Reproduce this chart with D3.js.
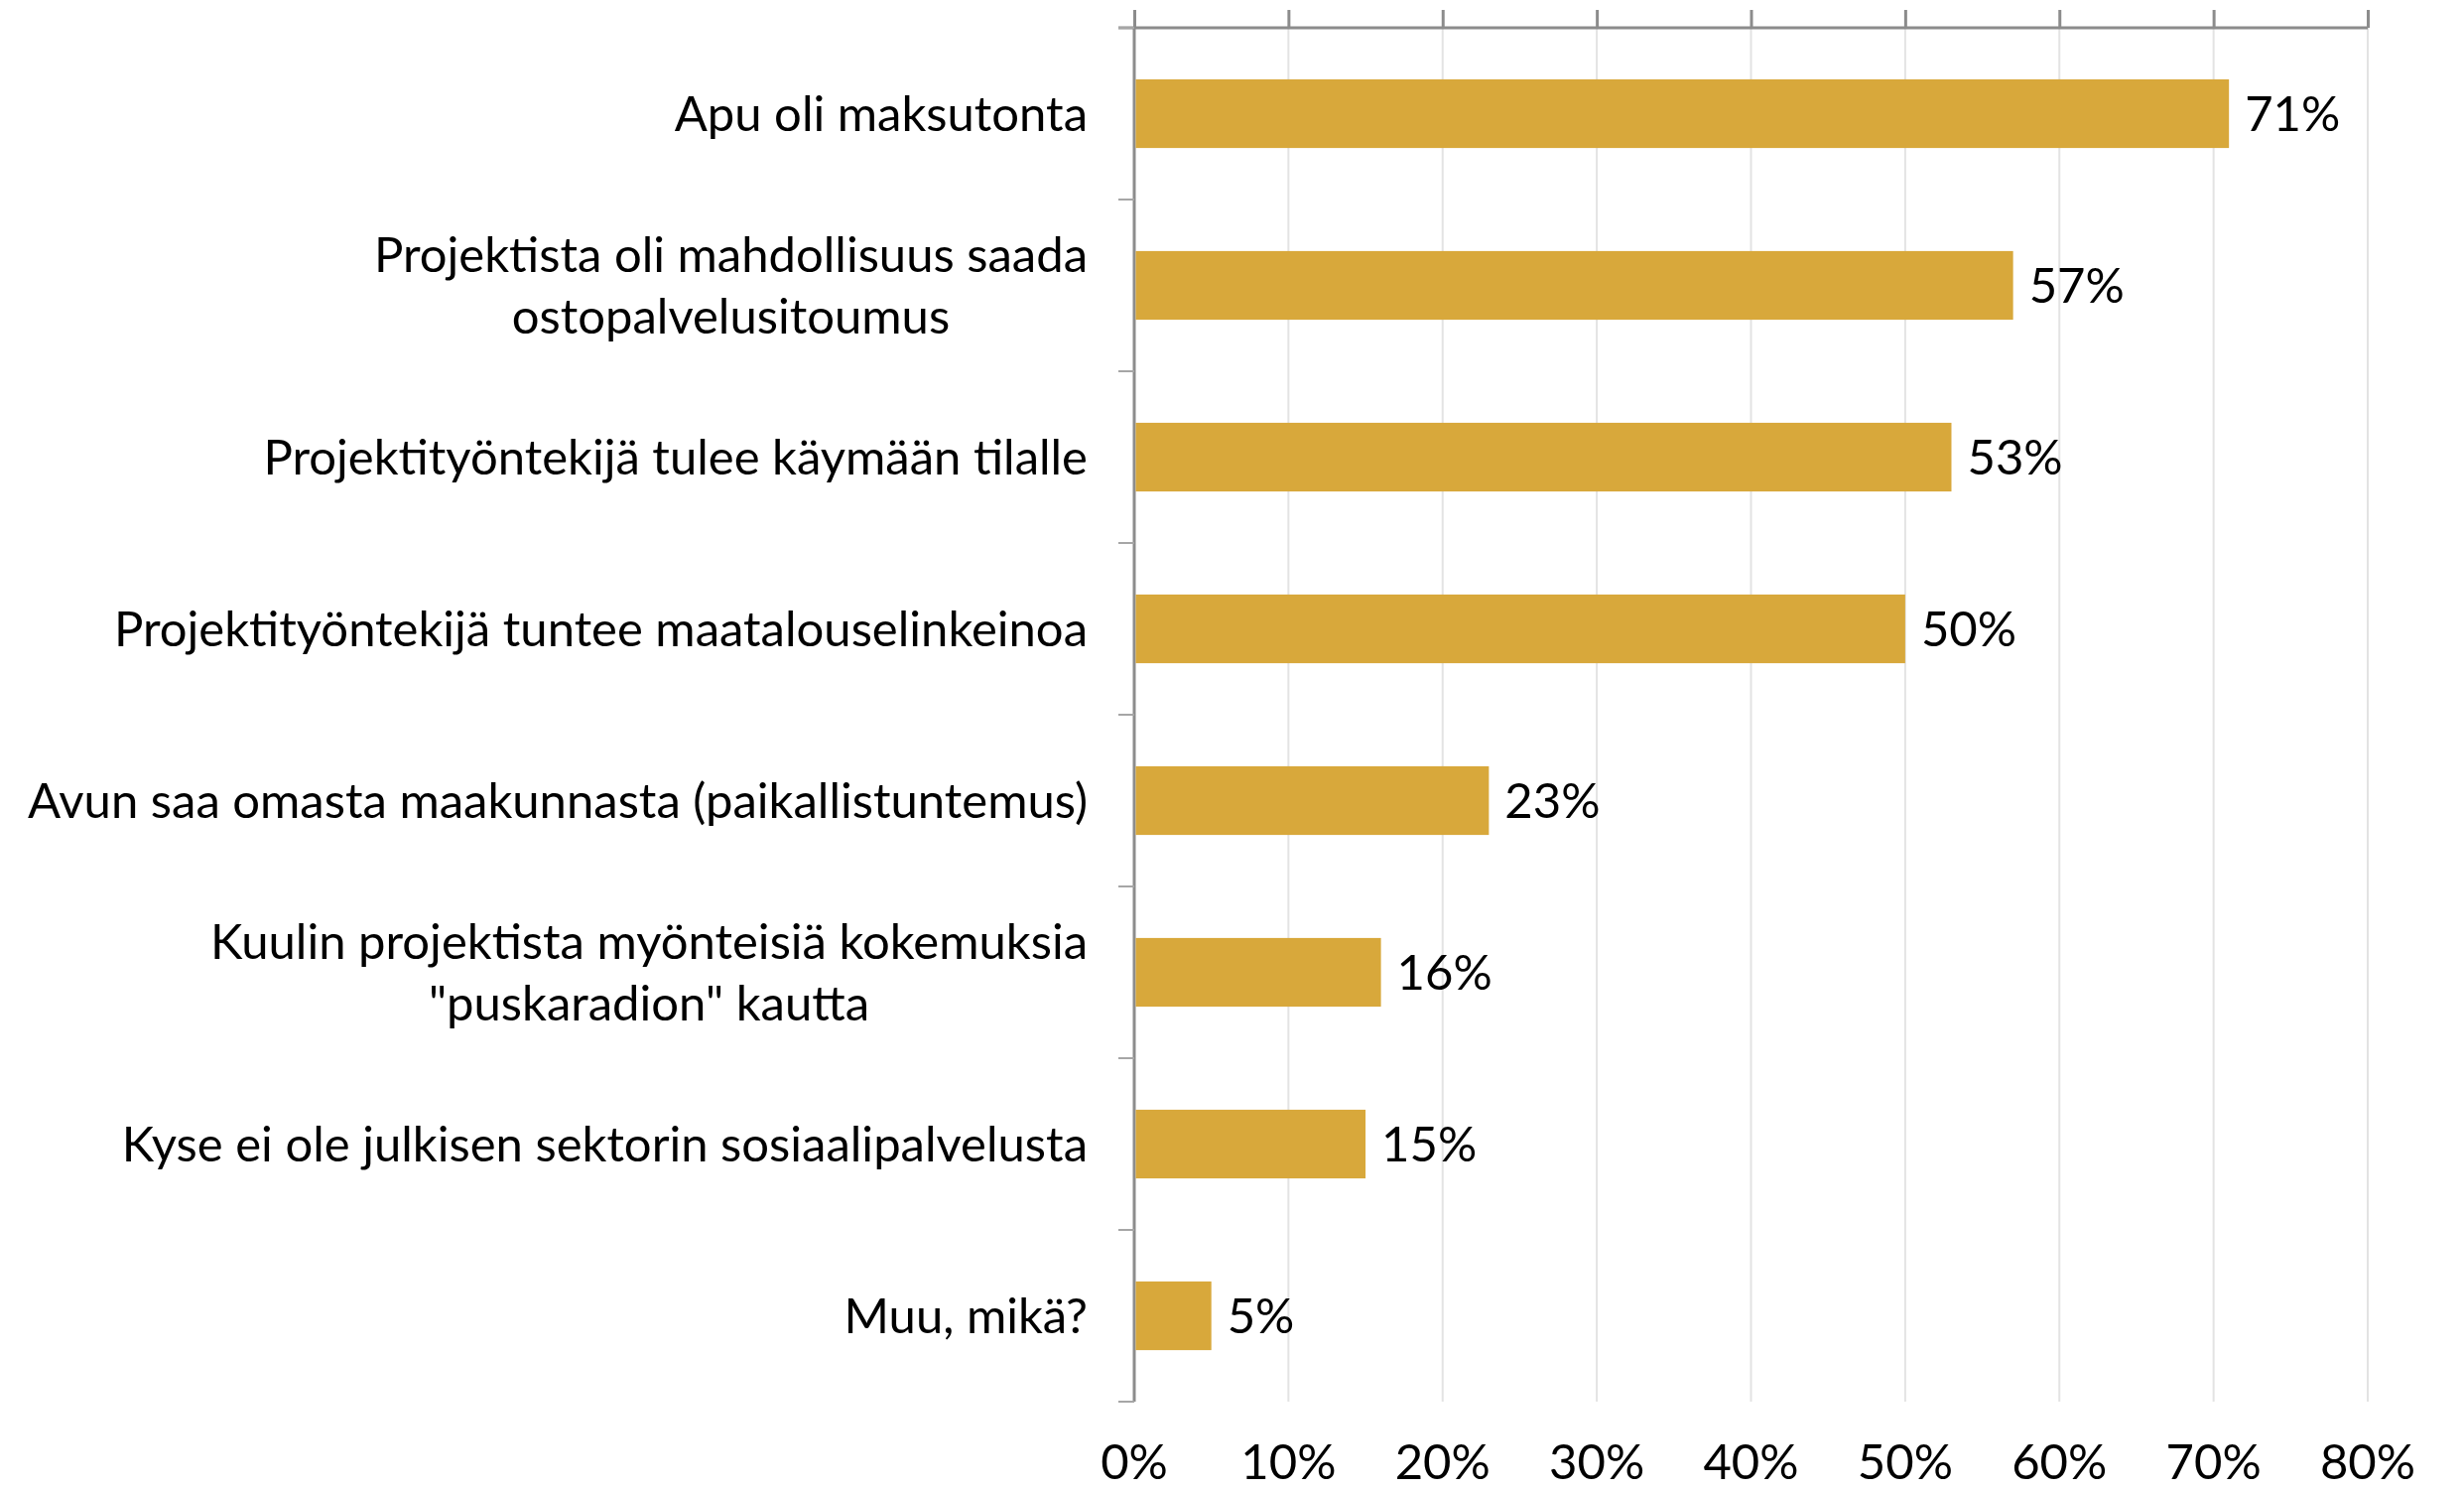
<!DOCTYPE html>
<html>
<head>
<meta charset="utf-8">
<script src="https://cdn.jsdelivr.net/npm/d3@7"></script>
<style>
  body { margin: 0; background: #fff; }
  text { font-family: Lato, "Noto Sans", sans-serif; fill: #000; }
</style>
</head>
<body>
<div class="chart"></div>
<script>

// Chart data
var categories = [
    ["Apu oli maksutonta"],
    ["Projektista oli mahdollisuus saada", "ostopalvelusitoumus"],
    ["Projektityöntekijä tulee käymään tilalle"],
    ["Projektityöntekijä tuntee maatalouselinkeinoa"],
    ["Avun saa omasta maakunnasta (paikallistuntemus)"],
    ["Kuulin projektista myönteisiä kokemuksia", "\"puskaradion\" kautta"],
    ["Kyse ei ole julkisen sektorin sosiaalipalvelusta"],
    ["Muu, mikä?"]
];
var values = [71, 57, 53, 50, 23, 16, 15, 5];
var ticks = [0, 10, 20, 30, 40, 50, 60, 70, 80];

var width = 2483, height = 1502;
var margin = { top: 28, right: 97, bottom: 90, left: 1143 };
var fontSize = 49;

var svg = d3.select(".chart")
    .append("svg")
      .attr("width", width)
      .attr("height", height);

var x = d3.scaleLinear()
    .domain([0, 80])
    .range([margin.left, width - margin.right]);

var y = d3.scaleBand()
    .domain(d3.range(categories.length))
    .range([margin.top, height - margin.bottom])
    .paddingInner(0.6)
    .paddingOuter(0.3);

var step = y.step();

// Vertical gridlines
svg.selectAll(".grid")
    .data(ticks.slice(1))
    .enter().append("line")
      .attr("class", "grid")
      .attr("x1", function(d) { return x(d); })
      .attr("x2", function(d) { return x(d); })
      .attr("y1", margin.top)
      .attr("y2", height - margin.bottom)
      .style("stroke", "#e3e3e3")
      .style("stroke-width", 2);

// Top axis with ticks pointing up
var xAxis = d3.axisTop(x)
    .tickValues(ticks)
    .tickSize(18)
    .tickFormat("");

svg.append("g")
    .attr("class", "xAxis")
    .attr("transform", "translate(0," + margin.top + ")")
    .call(xAxis)
    .call(function(g) {
        g.select(".domain").attr("d", "M" + (margin.left - 16) + ",0H" + x(80));
        g.selectAll("path, line").style("stroke", "#8c8c8c").style("stroke-width", 3);
    });

// Tick labels at the bottom
svg.selectAll(".tickLabel")
    .data(ticks)
    .enter().append("text")
      .attr("class", "tickLabel")
      .attr("x", function(d) { return x(d); })
      .attr("y", height - 12)
      .attr("text-anchor", "middle")
      .style("font-size", fontSize + "px")
      .text(function(d) { return d + "%"; });

// Left axis with ticks at the category boundaries
var bounds = d3.range(categories.length + 1).map(function(i) {
    return margin.top + i * step;
});

svg.append("line")
    .attr("x1", margin.left).attr("x2", margin.left)
    .attr("y1", margin.top).attr("y2", height - margin.bottom)
    .style("stroke", "#8c8c8c")
    .style("stroke-width", 3);

svg.selectAll(".yTick")
    .data(bounds)
    .enter().append("line")
      .attr("class", "yTick")
      .attr("x1", margin.left - 16).attr("x2", margin.left)
      .attr("y1", function(d) { return d; })
      .attr("y2", function(d) { return d; })
      .style("stroke", "#a6a6a6")
      .style("stroke-width", 2);

// Bars
svg.selectAll(".bar")
    .data(values)
    .enter().append("rect")
      .attr("class", "bar")
      .attr("x", x(0) + 1.5)
      .attr("y", function(d, i) { return y(i); })
      .attr("width", function(d) { return x(d) - x(0) - 1.5; })
      .attr("height", y.bandwidth())
      .style("fill", "#d8a83b");

// Value labels
svg.selectAll(".valueLabel")
    .data(values)
    .enter().append("text")
      .attr("class", "valueLabel")
      .attr("x", function(d) { return x(d) + 16; })
      .attr("y", function(d, i) { return y(i) + y.bandwidth() / 2; })
      .attr("dy", "0.35em")
      .style("font-size", fontSize + "px")
      .text(function(d) { return d + "%"; });

// Category labels, multi-line ones centred under the widest line
var labelRight = margin.left - 47;
var lineHeight = 62;

categories.forEach(function(lines, i) {
    var cy = y(i) + y.bandwidth() / 2;
    var g = svg.append("g").attr("class", "catLabel");
    var texts = lines.map(function(line, j) {
        return g.append("text")
            .attr("y", cy + (j - (lines.length - 1) / 2) * lineHeight)
            .attr("dy", "0.35em")
            .attr("text-anchor", "middle")
            .style("font-size", fontSize + "px")
            .text(line);
    });
    var maxW = d3.max(texts, function(t) { return t.node().getComputedTextLength(); });
    texts.forEach(function(t) { t.attr("x", labelRight - maxW / 2); });
});

</script>
</body>
</html>
